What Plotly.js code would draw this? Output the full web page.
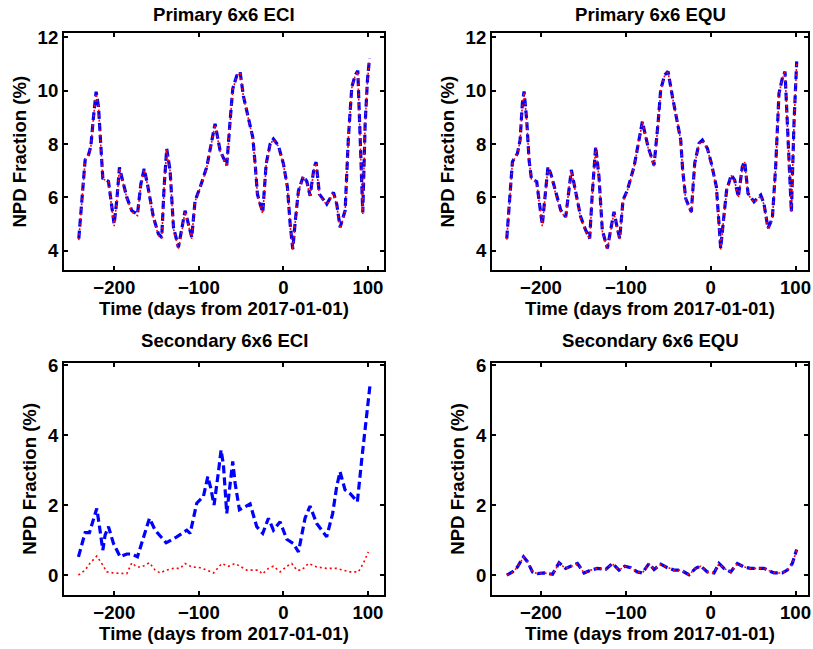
<!DOCTYPE html>
<html>
<head>
<meta charset="utf-8">
<script src="https://cdn.plot.ly/plotly-3.0.1.min.js"></script>
<style>html,body{margin:0;padding:0;background:#fff;}#chart{width:813px;height:649px;}</style>
</head>
<body>
<div id="chart"></div>
<script>
// ---- data (days from 2017-01-01, NPD fraction %) ----
const priEciDays = [-242,-236.5,-234.5,-230.5,-227.8,-224.6,-221.5,-218.7,-214.8,-213.6,-206.9,-203,-200.2,-197,-193.9,-191.1,-185.2,-179.3,-172.6,-168.6,-164.7,-160.8,-153.7,-147.8,-143.9,-141.1,-138,-134,-130,-124.2,-120.2,-116.3,-112.3,-108.4,-104.5,-98.5,-90.7,-84.7,-80.8,-74.9,-67,-63,-59.9,-55.1,-51.2,-47.3,-41.3,-36.2,-33.4,-30.7,-27.5,-24.4,-20.4,-15.7,-11.8,-5.9,0.1,4.8,8,11.1,13.9,17.8,23.7,27.7,31.6,36.3,38.7,42.6,51.3,59.2,63.1,67.1,73,76.9,80.9,84.8,88,90.7,93.9,96.7,99.4,101.8];
const priEciBlue = [4.46,6.78,7.40,7.60,7.90,9.02,9.96,9.40,7.50,6.72,6.60,5.65,5.00,5.90,7.13,6.75,6.00,5.50,5.37,6.50,7.07,6.50,5.25,4.63,4.50,6.38,7.82,7.00,4.88,4.13,4.75,5.50,5.00,4.50,5.87,6.38,7.13,8.13,8.76,7.76,7.20,8.88,10.07,10.57,10.70,9.80,8.94,8.25,7.25,6.12,5.75,5.44,7.25,8.00,8.19,7.94,7.25,6.38,5.00,4.06,5.06,6.25,6.80,6.60,6.06,7.13,7.32,6.12,5.75,6.19,5.75,4.88,5.50,8.25,10.13,10.57,10.75,8.13,5.44,8.76,10.38,11.20];
const priEciRed  = [4.40,6.75,7.38,7.60,7.88,9.00,9.90,9.38,7.48,6.70,6.58,5.60,4.92,5.88,7.10,6.72,5.98,5.45,5.32,6.48,7.05,6.48,5.20,4.58,4.45,6.35,7.80,6.98,4.82,4.08,4.70,5.48,4.95,4.45,5.85,6.35,7.10,8.10,8.74,7.72,7.15,8.85,10.03,10.55,10.68,9.78,8.92,8.22,7.22,6.08,5.70,5.38,7.22,7.98,8.17,7.92,7.22,6.34,4.95,4.02,5.02,6.22,6.78,6.56,6.02,7.10,7.30,6.08,5.72,6.16,5.70,4.82,5.46,8.22,10.10,10.55,10.72,8.10,5.38,8.74,10.35,11.15];

const priEquDays = [-240.3,-236.4,-233.6,-227.7,-224.6,-221.9,-219.9,-216.8,-214,-211.3,-205,-202.3,-198.4,-195.6,-191.7,-188.5,-182.6,-176.7,-170.8,-166.9,-164.2,-160.3,-153.2,-147.3,-142.6,-139.5,-135.5,-131.6,-127.7,-121.8,-117.8,-113.9,-110,-107.2,-103.3,-98.2,-90.3,-84.4,-80.5,-73.8,-66.7,-62,-58.9,-54.2,-50.2,-45.1,-39.3,-35.3,-33,-29.4,-25.5,-22.8,-18.8,-13.7,-9.8,-3.9,0.8,6.7,9.8,11.8,14.9,18.8,24.3,28.3,32.6,37.3,40.1,44,51.1,59,62.8,67.5,72.7,76.6,80.5,84.4,87.6,91.1,95.1,98.2,101.4];
const priEquBlue = [4.46,6.15,7.34,7.65,8.15,9.53,9.97,8.90,7.40,6.71,6.59,5.90,4.97,5.90,7.15,6.90,6.15,5.52,5.27,6.40,7.03,6.40,5.27,4.77,4.46,6.15,7.90,6.77,4.77,4.09,4.77,5.46,4.84,4.46,5.90,6.27,7.15,8.15,8.84,7.90,7.21,8.78,10.03,10.59,10.72,9.78,8.90,8.15,7.03,5.96,5.65,5.46,7.28,8.03,8.15,7.84,7.28,6.40,5.02,4.09,5.09,6.27,6.84,6.65,6.02,7.15,7.34,6.15,5.84,6.09,5.77,4.84,5.21,7.15,9.90,10.46,10.72,8.15,5.46,8.78,11.10];
const priEquRed  = [4.42,6.12,7.32,7.63,8.12,9.50,9.94,8.88,7.38,6.69,6.56,5.86,4.92,5.87,7.12,6.88,6.12,5.48,5.23,6.38,7.00,6.37,5.23,4.73,4.42,6.12,7.88,6.74,4.73,4.05,4.73,5.43,4.80,4.42,5.87,6.24,7.12,8.12,8.82,7.87,7.17,8.75,10.00,10.57,10.70,9.75,8.87,8.12,7.00,5.92,5.60,5.42,7.25,8.00,8.12,7.81,7.25,6.36,4.98,4.05,5.05,6.24,6.82,6.62,5.98,7.12,7.32,6.12,5.80,6.06,5.73,4.80,5.17,7.12,9.87,10.44,10.70,8.12,5.42,8.75,11.05];

const secEciDays = [-242.4,-234.5,-229.4,-224.6,-220.7,-217.5,-213.6,-210.9,-206.9,-201,-193.1,-185.2,-179.3,-172.6,-165.5,-158.4,-151.7,-138.7,-126.1,-114.3,-110.3,-102.5,-94.6,-89.4,-85.9,-82,-76.8,-73.7,-70.9,-69,-67,-63.8,-59.9,-57.1,-52,-45.3,-39.4,-31.5,-24.4,-17.7,-11.8,-3.9,4,11.8,17.8,25.6,31.5,39.4,51.2,58.3,63,67,72.9,78.8,87.5,92.6,96.6,100.5,102.5];
const secEciBlue = [0.53,1.22,1.22,1.58,1.91,1.39,0.72,1.15,1.39,0.91,0.53,0.61,0.61,0.53,1.10,1.63,1.29,0.93,1.10,1.29,1.20,2.06,2.25,2.82,2.49,2.01,2.96,3.58,3.15,2.44,1.77,2.44,3.25,2.63,1.87,1.96,2.04,1.39,1.20,1.63,1.29,1.53,1.03,0.91,0.67,1.63,1.98,1.48,1.10,1.77,2.53,2.96,2.44,2.34,2.10,3.29,4.25,5.15,5.44];
const secEciRedDays = [-242.4,-234.5,-229,-220.7,-214.8,-208.9,-201,-193.1,-185.2,-179.3,-173.4,-167.5,-158.4,-151.7,-145.8,-138.7,-130,-122.2,-116.3,-108.4,-98.5,-90.6,-82.7,-72.9,-65,-57.1,-49.3,-43.3,-35.5,-29.6,-24.8,-17.7,-11.8,-3.9,4,9.9,15.8,21.7,29.6,39.4,51.2,63,70.9,78.8,88.6,94.5,100.5];
const secEciRed  = [0.01,0.15,0.34,0.55,0.34,0.10,0.07,0.07,0.05,0.36,0.24,0.24,0.36,0.15,0.07,0.15,0.20,0.20,0.34,0.24,0.22,0.15,0.07,0.34,0.26,0.34,0.24,0.15,0.15,0.15,0.04,0.20,0.26,0.10,0.26,0.34,0.15,0.15,0.34,0.24,0.20,0.20,0.15,0.10,0.10,0.34,0.67];

const secEquDays = [-240.3,-233.6,-227.7,-220.6,-215.9,-210,-204.1,-196.3,-186.4,-178.6,-170.8,-164.9,-157,-149.2,-141.3,-133.5,-123.7,-115.8,-108,-101.3,-94.2,-86.4,-80.5,-72.6,-66.7,-58.9,-51,-43.2,-35.3,-25.5,-17.7,-11.8,-3.9,3.9,9.8,15.7,23.6,31.4,39.3,47.1,57,62.8,74.6,84.4,90.3,96.2,101.4];
const secEquBlue = [0.01,0.10,0.24,0.53,0.39,0.10,0.05,0.07,0.03,0.36,0.20,0.27,0.34,0.07,0.15,0.20,0.17,0.34,0.15,0.26,0.22,0.10,0.07,0.34,0.17,0.32,0.22,0.15,0.15,0.02,0.20,0.27,0.10,0.07,0.34,0.20,0.10,0.34,0.24,0.20,0.20,0.20,0.07,0.07,0.15,0.34,0.74];
const secEquRed  = [0.01,0.09,0.23,0.52,0.38,0.10,0.05,0.07,0.03,0.35,0.20,0.26,0.33,0.07,0.15,0.20,0.17,0.33,0.15,0.25,0.22,0.10,0.07,0.33,0.17,0.31,0.22,0.15,0.15,0.02,0.20,0.26,0.10,0.07,0.33,0.20,0.10,0.33,0.24,0.20,0.20,0.20,0.07,0.07,0.15,0.33,0.72];

const titles = ["Primary 6x6 ECI", "Primary 6x6 EQU", "Secondary 6x6 ECI", "Secondary 6x6 EQU"];
const xTicks = [-200, -100, 0, 100];
const yTicksPrimary = [4, 6, 8, 10, 12];
const yTicksSecondary = [0, 2, 4, 6];
const xLabel = "Time (days from 2017-01-01)";
const yLabel = "NPD Fraction (%)";

// ---- styling ----
const FONT = "'Liberation Sans', Arial, Helvetica, sans-serif";
const FS = 18.6;
const blueLine = {color: '#0000ff', width: 3.2, dash: '8px,4px'};
const redLine = {color: '#ff0000', width: 1.6, dash: '2px,3px'};

function pair(xa, ya, dx, dyB, dyR, dxR) {
  return [
    {x: dx, y: dyB, xaxis: xa, yaxis: ya, mode: 'lines', line: blueLine, showlegend: false, hoverinfo: 'skip'},
    {x: dxR || dx, y: dyR, xaxis: xa, yaxis: ya, mode: 'lines', line: redLine, showlegend: false, hoverinfo: 'skip'}
  ];
}

const data = [].concat(
  pair('x', 'y', priEciDays, priEciBlue, priEciRed),
  pair('x2', 'y2', priEquDays, priEquBlue, priEquRed),
  pair('x3', 'y3', secEciDays, secEciBlue, secEciRed, secEciRedDays),
  pair('x4', 'y4', secEquDays, secEquBlue, secEquRed)
);

const W = 813, H = 649;
const colL = [64 / W, 384 / W], colR = [492 / W, 808 / W];
const rowT = [1 - 270 / H, 1 - 33.3 / H], rowB = [1 - 595 / H, 1 - 362.7 / H];

function xax(dom, range, anchor) {
  return {
    domain: dom, range: range, anchor: anchor,
    tickvals: xTicks, ticks: 'inside', ticklen: 4, tickwidth: 2, tickcolor: '#000',
    showline: true, linewidth: 2, linecolor: '#000', mirror: 'ticks',
    showgrid: false, zeroline: false,
    tickfont: {family: FONT, size: FS, color: '#000', weight: 'bold'},
    title: {text: xLabel, font: {family: FONT, size: FS, color: '#000', weight: 'bold'}, standoff: 1}
  };
}
function yax(dom, range, anchor, ticks) {
  return {
    domain: dom, range: range, anchor: anchor,
    tickvals: ticks, ticks: 'inside', ticklen: 4, tickwidth: 2, tickcolor: '#000',
    showline: true, linewidth: 2, linecolor: '#000', mirror: 'ticks',
    showgrid: false, zeroline: false,
    tickfont: {family: FONT, size: FS, color: '#000', weight: 'bold'},
    title: {text: yLabel, font: {family: FONT, size: FS, color: '#000', weight: 'bold'}, standoff: 6}
  };
}

const titlePos = [
  [(64 + 384) / 2 / W, 1 - 15 / H], [(492 + 808) / 2 / W, 1 - 15 / H],
  [(64 + 384) / 2 / W, 1 - 340 / H], [(492 + 808) / 2 / W, 1 - 340 / H]
];

const layout = {
  width: W, height: H,
  margin: {l: 0, r: 0, t: 0, b: 0},
  paper_bgcolor: '#fff', plot_bgcolor: '#fff',
  showlegend: false,
  xaxis: xax(colL, [-259.5, 119], 'y'),
  yaxis: yax(rowT, [3.28, 12.15], 'x', yTicksPrimary),
  xaxis2: xax(colR, [-257.7, 114.7], 'y2'),
  yaxis2: yax(rowT, [3.28, 12.15], 'x2', yTicksPrimary),
  xaxis3: xax(colL, [-259.5, 119], 'y3'),
  yaxis3: yax(rowB, [-0.56, 6.07], 'x3', yTicksSecondary),
  xaxis4: xax(colR, [-257.7, 114.7], 'y4'),
  yaxis4: yax(rowB, [-0.56, 6.07], 'x4', yTicksSecondary),
  annotations: titles.map((t, i) => ({
    text: t, xref: 'paper', yref: 'paper', x: titlePos[i][0], y: titlePos[i][1],
    xanchor: 'center', yanchor: 'middle', showarrow: false,
    font: {family: FONT, size: FS, color: '#000', weight: 'bold'}
  }))
};

Plotly.newPlot('chart', data, layout, {staticPlot: true, displayModeBar: false});
</script>
</body>
</html>
